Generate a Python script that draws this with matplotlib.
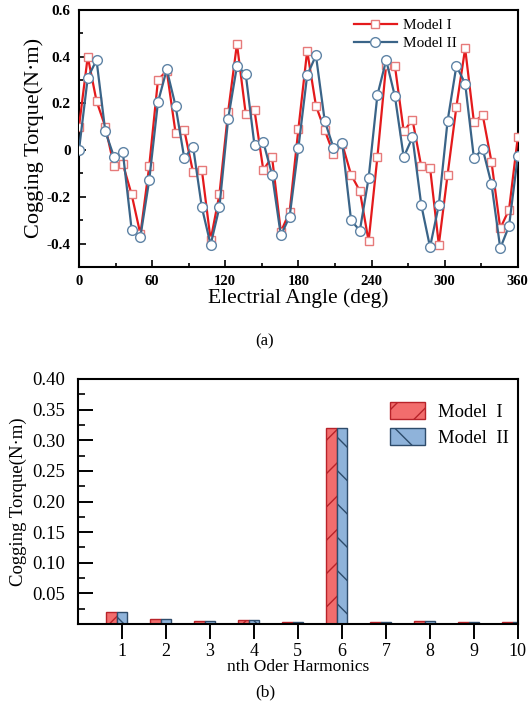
import numpy as np
import matplotlib
matplotlib.use("Agg")
import matplotlib.pyplot as plt
from matplotlib.ticker import MultipleLocator

plt.rcParams['font.family'] = ['Liberation Serif', 'DejaVu Serif']

# (a) cogging torque waveform, sampled every 7.2 electrical degrees
angle = np.arange(51) * 7.2
model1 = [0.10, 0.40, 0.21, 0.10, -0.07, -0.06, -0.19, -0.36, -0.07, 0.30,
          0.34, 0.075, 0.085, -0.095, -0.085, -0.385, -0.19, 0.165, 0.455, 0.155,
          0.17, -0.085, -0.03, -0.35, -0.265, 0.09, 0.425, 0.19, 0.085, -0.015,
          0.025, -0.105, -0.175, -0.39, -0.03, 0.365, 0.36, 0.08, 0.13, -0.07,
          -0.075, -0.405, -0.105, 0.185, 0.435, 0.12, 0.15, -0.05, -0.335, -0.255,
          0.055]
model2 = [0.0, 0.31, 0.385, 0.08, -0.03, -0.01, -0.34, -0.37, -0.13, 0.205,
          0.345, 0.19, -0.035, 0.015, -0.245, -0.405, -0.245, 0.135, 0.36, 0.325,
          0.02, 0.035, -0.105, -0.365, -0.285, 0.01, 0.32, 0.405, 0.125, 0.01,
          0.03, -0.30, -0.345, -0.12, 0.235, 0.385, 0.23, -0.03, 0.055, -0.235,
          -0.415, -0.235, 0.125, 0.36, 0.285, -0.035, 0.005, -0.145, -0.42, -0.325,
          -0.025]

xticks_a = [0, 60, 120, 180, 240, 300, 360]
yticks_a = [-0.4, -0.2, 0, 0.2, 0.4, 0.6]
ylabels_a = ['-0.4', '-0.2', '0', '0.2', '0.4', '0.6']

# (b) harmonic spectrum
orders = np.arange(1, 11)
harm1 = [0.020, 0.009, 0.005, 0.006, 0.003, 0.320, 0.004, 0.005, 0.003, 0.004]
harm2 = [0.020, 0.009, 0.005, 0.006, 0.003, 0.320, 0.004, 0.005, 0.003, 0.004]
yticks_b = [0.05, 0.10, 0.15, 0.20, 0.25, 0.30, 0.35, 0.40]

red = '#e41a1c'
blue = '#3a6488'

fig = plt.figure(figsize=(5.3, 7.08), dpi=100)

# ---------------- (a) ----------------
ax1 = fig.add_axes([0.149, 0.623, 0.828, 0.363])
ax1.plot(angle, model1, '-', color=red, lw=1.6, marker='s', ms=6,
         mfc='white', mec='#e67a7a', mew=1.0, label='Model I', zorder=3)
ax1.plot(angle, model2, '-', color=blue, lw=1.6, marker='o', ms=7,
         mfc='white', mec='#5f84a6', mew=1.0, label='Model II', zorder=4)

ax1.set_xlim(0, 360)
ax1.set_ylim(-0.5, 0.6)
ax1.set_xticks(xticks_a)
ax1.set_xticklabels([str(v) for v in xticks_a], fontweight='bold', fontsize=10.5)
ax1.set_yticks(yticks_a)
ax1.set_yticklabels(ylabels_a, fontweight='bold', fontsize=11)
ax1.xaxis.set_minor_locator(MultipleLocator(30))
ax1.yaxis.set_minor_locator(MultipleLocator(0.1))
ax1.tick_params(which='both', direction='in', top=False, right=False, width=1.2)
ax1.tick_params(which='major', length=5, pad=6)
ax1.tick_params(which='minor', length=3)
for s in ax1.spines.values():
    s.set_linewidth(1.5)
ax1.set_xlabel('Electrial Angle (deg)', fontsize=15.5, labelpad=0)
ax1.set_ylabel('Cogging Torque(N·m)', fontsize=16, labelpad=2)
ax1.legend(loc='upper left', bbox_to_anchor=(0.595, 1.02), frameon=False,
           fontsize=11, handlelength=2.8, handletextpad=0.45, labelspacing=0.3)

fig.text(0.5, 1 - 341 / 708, '(a)', ha='center', va='center', fontsize=12)

# ---------------- (b) ----------------
ax2 = fig.add_axes([0.147, 0.1186, 0.830, 0.3461])
w = 0.24
ax2.bar(orders - w, harm1, width=w, align='center', color='#f26d6d',
        edgecolor='#b8232a', linewidth=1.0, hatch='/', label='Model  I')
ax2.bar(orders, harm2, width=w, align='center', color='#8fb3da',
        edgecolor='#2e4c6b', linewidth=1.0, hatch='\\', label='Model  II')

ax2.set_xlim(0, 10)
ax2.set_ylim(0, 0.40)
ax2.set_xticks(orders)
ax2.set_xticklabels([str(v) for v in orders], fontsize=13)
ax2.set_yticks(yticks_b)
ax2.set_yticklabels(['%.2f' % v for v in yticks_b], fontsize=13.5)
ax2.yaxis.set_minor_locator(MultipleLocator(0.025))
ax2.tick_params(axis='x', direction='out', length=11, width=1.4, pad=3)
ax2.tick_params(axis='y', which='major', direction='in', length=11, width=1.4, pad=9)
ax2.tick_params(axis='y', which='minor', direction='in', length=5, width=1.2)
ax2.tick_params(top=False, right=False)
for s in ax2.spines.values():
    s.set_linewidth(1.5)
ax2.set_xlabel('nth Oder Harmonics', fontsize=12.5, labelpad=-1)
ax2.set_ylabel('Cogging Torque(N·m)', fontsize=13.5, labelpad=4)
ax2.legend(loc='upper left', bbox_to_anchor=(0.67, 0.975), frameon=False,
           fontsize=13.5, handlelength=1.9, handleheight=1.0,
           handletextpad=0.7, labelspacing=0.4)

fig.text(0.5, 1 - 692 / 708, '(b)', ha='center', va='center', fontsize=12.5)

fig.savefig('out.png', dpi=100)
